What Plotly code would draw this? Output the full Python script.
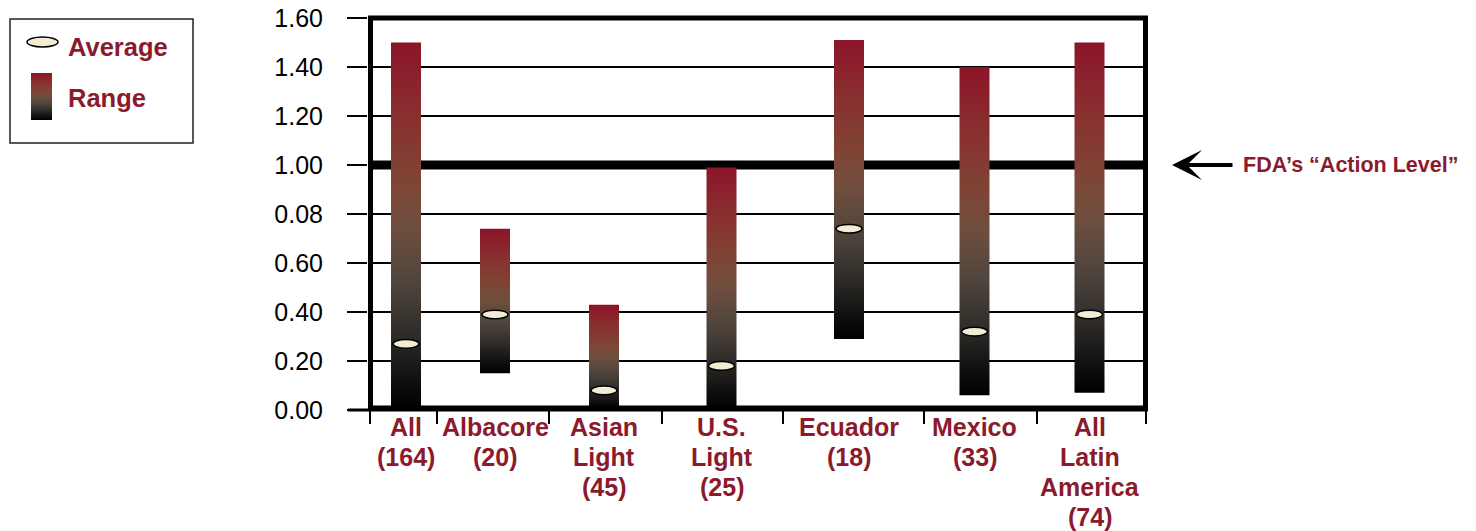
import plotly.graph_objects as go

# ---- data -------------------------------------------------------------
categories = ["All", "Albacore", "Asian Light", "U.S. Light",
              "Ecuador", "Mexico", "All Latin America"]
sample_counts = [164, 20, 45, 25, 18, 33, 74]
category_labels = [["All", "(164)"], ["Albacore", "(20)"], ["Asian", "Light", "(45)"],
                   ["U.S.", "Light", "(25)"], ["Ecuador", "(18)"], ["Mexico", "(33)"],
                   ["All", "Latin", "America", "(74)"]]
range_low = [0.00, 0.15, 0.00, 0.00, 0.29, 0.06, 0.07]
range_high = [1.50, 0.74, 0.43, 0.99, 1.51, 1.40, 1.50]
average = [0.27, 0.39, 0.08, 0.18, 0.74, 0.32, 0.39]

y_tick_values = [0.0, 0.2, 0.4, 0.6, 0.8, 1.0, 1.2, 1.4, 1.6]
y_tick_labels = ["0.00", "0.20", "0.40", "0.60", "0.08", "1.00", "1.20", "1.40", "1.60"]
action_level = 1.0

# ---- layout constants (x axis runs in page-pixel units) ---------------
W, H = 1476, 531
PLOT_L, PLOT_R, PLOT_T, PLOT_B = 368, 1148, 18, 410
slot_centres = [406, 495, 604, 721.5, 849, 974.5, 1089.5]
slot_edges = [370, 437, 549, 662, 783, 924, 1037, 1146]
BAR_HALF = 15
ELL_HALF_W = 13
ELL_HALF_H = 4.3 / ((PLOT_B - PLOT_T) / 1.6)   # in data units
LABEL_TOP = 427        # centre of the first label line
LABEL_STEP = 30        # line spacing of the category labels

RED = "#8B1A2C"
CREAM = "#F4ECD2"
FONT = "Liberation Sans, Arial, Helvetica, sans-serif"
GRADIENT = [
    [0.00, "#000000"],
    [0.08, "#101010"],
    [0.20, "#2E2B28"],
    [0.35, "#4F453D"],
    [0.50, "#6E4E3E"],
    [0.62, "#7E4535"],
    [0.78, "#883230"],
    [1.00, "#8C1529"],
]


def px(x):
    return x / W


def py(y):
    return (H - y) / H


fig = go.Figure()

# range bars: vertical gradient black -> crimson over each bar's own extent
for cx, lo, hi, name in zip(slot_centres, range_low, range_high, categories):
    fig.add_trace(go.Scatter(
        x=[cx - BAR_HALF, cx + BAR_HALF, cx + BAR_HALF, cx - BAR_HALF, cx - BAR_HALF],
        y=[lo, lo, hi, hi, lo],
        mode="lines",
        fill="toself",
        fillgradient=dict(type="vertical", colorscale=GRADIENT),
        line=dict(width=0, color="rgba(0,0,0,0)"),
        name=name,
        hoverinfo="skip",
    ))

# legend swatch for "Range" on its own hidden axes
fig.add_trace(go.Scatter(
    x=[0, 1, 1, 0, 0], y=[0, 0, 1, 1, 0],
    mode="lines", fill="toself",
    fillgradient=dict(type="vertical", colorscale=GRADIENT),
    line=dict(width=0, color="rgba(0,0,0,0)"),
    xaxis="x2", yaxis="y2", hoverinfo="skip",
))

shapes = []
# FDA action level line (under bars, over grid)
shapes.append(dict(type="line", xref="paper", yref="y",
                   x0=px(370.5), x1=px(1145.5), y0=action_level, y1=action_level,
                   line=dict(color="black", width=9), layer="between"))
# plot frame
shapes.append(dict(type="rect", xref="paper", yref="paper",
                   x0=px(370.5), x1=px(1145.5), y0=py(408), y1=py(18),
                   line=dict(color="black", width=5), layer="above"))
# bottom axis line
shapes.append(dict(type="line", xref="paper", yref="paper",
                   x0=px(348), x1=px(1148), y0=py(410), y1=py(410),
                   line=dict(color="black", width=3), layer="above"))
# average markers
for cx, avg in zip(slot_centres, average):
    shapes.append(dict(type="circle", xref="x", yref="y",
                       x0=cx - ELL_HALF_W, x1=cx + ELL_HALF_W,
                       y0=avg - ELL_HALF_H, y1=avg + ELL_HALF_H,
                       fillcolor=CREAM, line=dict(color="black", width=1.5),
                       layer="above"))
# legend box and its average swatch
shapes.append(dict(type="rect", xref="paper", yref="paper",
                   x0=px(10), x1=px(193), y0=py(143), y1=py(19),
                   line=dict(color="#222222", width=1.5), fillcolor="rgba(0,0,0,0)"))
shapes.append(dict(type="circle", xref="paper", yref="paper",
                   x0=px(27), x1=px(58), y0=py(47), y1=py(37),
                   fillcolor=CREAM, line=dict(color="black", width=1.5)))

annotations = []
for cx, lines in zip(slot_centres, category_labels):
    for i, line in enumerate(lines):
        annotations.append(dict(
            x=cx, xref="x", y=py(LABEL_TOP + i * LABEL_STEP), yref="paper",
            yanchor="middle", xanchor="center",
            text=f"<b>{line}</b>", showarrow=False,
            font=dict(family=FONT, size=25, color=RED)))
annotations.append(dict(x=px(66), y=py(47), xref="paper", yref="paper",
                        xanchor="left", yanchor="middle", showarrow=False,
                        text="<b>Average</b>", font=dict(family=FONT, size=25.5, color=RED)))
annotations.append(dict(x=px(66), y=py(98), xref="paper", yref="paper",
                        xanchor="left", yanchor="middle", showarrow=False,
                        text="<b>Range</b>", font=dict(family=FONT, size=25.5, color=RED)))
# arrow pointing at the action level
annotations.append(dict(x=px(1172), y=py(165), xref="paper", yref="paper",
                        text="", showarrow=True, ax=62, ay=0,
                        arrowhead=3, arrowsize=1.25, arrowwidth=4, arrowcolor="black"))
annotations.append(dict(x=px(1241), y=py(165), xref="paper", yref="paper",
                        xanchor="left", yanchor="middle", showarrow=False,
                        text="<b>FDA\u2019s \u201cAction Level\u201d</b>",
                        font=dict(family=FONT, size=21.5, color=RED)))

fig.update_layout(
    width=W, height=H,
    margin=dict(l=0, r=0, t=0, b=0, autoexpand=False),
    paper_bgcolor="white", plot_bgcolor="white",
    showlegend=False,
    xaxis=dict(domain=[px(PLOT_L), px(PLOT_R)], range=[PLOT_L, PLOT_R],
               tickvals=slot_edges, ticks="outside", ticklen=13, tickwidth=2,
               tickcolor="black", showticklabels=False, showgrid=False,
               zeroline=False, showline=False, fixedrange=True, automargin=False),
    yaxis=dict(domain=[py(PLOT_B), py(PLOT_T)], range=[0, 1.6],
               tickvals=y_tick_values, ticktext=y_tick_labels,
               ticks="outside", ticklen=20, tickwidth=2, tickcolor="black",
               showgrid=True, gridcolor="black", gridwidth=2,
               zeroline=False, showline=False, ticklabelstandoff=19,
               tickfont=dict(family=FONT, size=25, color="black"),
               fixedrange=True, automargin=False),
    xaxis2=dict(domain=[px(31), px(52)], range=[0, 1], visible=False,
                fixedrange=True, anchor="y2", automargin=False),
    yaxis2=dict(domain=[py(120), py(73)], range=[0, 1], visible=False,
                fixedrange=True, anchor="x2", automargin=False),
    shapes=shapes,
    annotations=annotations,
)

fig.write_html("out.html")
